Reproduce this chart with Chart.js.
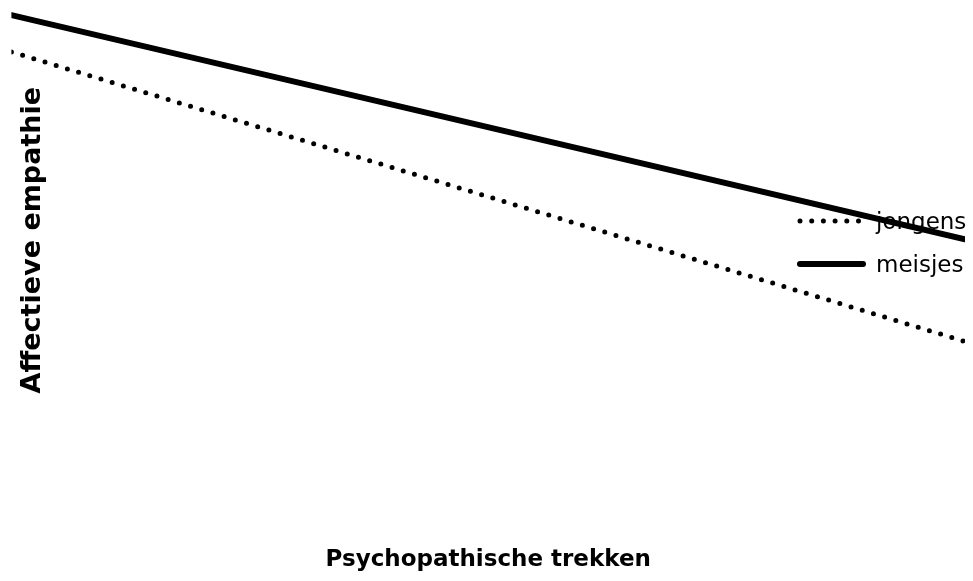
<!DOCTYPE html>
<html>
<head>
<meta charset="utf-8">
<script src="https://cdn.jsdelivr.net/npm/chart.js@4"></script>
<style>
    body { margin: 0; background: #fff; }
    .chart-box { width: 973px; height: 581px; }
</style>
</head>
<body>
<div class="chart-box"><canvas class="my-chart"></canvas></div>
<script>
const myChart = document.querySelector('.my-chart');

// psychopathic traits, low -> high
const traitLevels = [-1, 1];
const jongensValues = [9.09, 2.80];
const meisjesValues = [9.89, 5.02];
const seriesNames = ['jongens', 'meisjes'];

function toPoints(values) {
    return traitLevels.map((x, i) => ({ x: x, y: values[i] }));
}

// legend drawn on top of the plot, right side
const sideLegend = {
    id: 'sideLegend',
    afterDatasetsDraw(chart) {
        const ctx = chart.ctx;
        const startX = 800;
        const endX = 863;
        const textX = 876;
        let y = 221;
        chart.data.datasets.forEach(ds => {
            ctx.save();
            ctx.strokeStyle = ds.borderColor;
            ctx.lineWidth = ds.borderWidth;
            ctx.lineCap = 'round';
            ctx.setLineDash(ds.borderDash || []);
            ctx.beginPath();
            ctx.moveTo(startX, y);
            ctx.lineTo(endX, y);
            ctx.stroke();
            ctx.setLineDash([]);
            ctx.fillStyle = '#000';
            ctx.font = '23px "DejaVu Sans"';
            ctx.textBaseline = 'middle';
            ctx.fillText(ds.label, textX, y + 2);
            ctx.restore();
            y += 43;
        });
    }
};

new Chart(myChart, {
    type: 'line',
    data: {
        datasets: [{
            label: seriesNames[0],
            data: toPoints(jongensValues),
            borderColor: '#000',
            borderWidth: 5,
            borderDash: [0, 11.7],
            borderCapStyle: 'round',
            pointRadius: 0,
            fill: false
        }, {
            label: seriesNames[1],
            data: toPoints(meisjesValues),
            borderColor: '#000',
            borderWidth: 6,
            borderCapStyle: 'round',
            pointRadius: 0,
            fill: false
        }]
    },
    options: {
        responsive: true,
        maintainAspectRatio: false,
        animation: false,
        events: [],
        layout: {
            autoPadding: false,
            padding: { top: 10, left: 0, right: 8, bottom: 0 }
        },
        plugins: {
            legend: { display: false },
            tooltip: { enabled: false }
        },
        scales: {
            x: {
                type: 'linear',
                min: -1,
                max: 1,
                grid: { display: false, drawTicks: false },
                border: { display: false },
                ticks: { display: false },
                title: {
                    display: true,
                    text: 'Psychopathische trekken',
                    color: '#000',
                    font: { family: 'DejaVu Sans', size: 23, weight: 'bold' },
                    padding: { top: 76, bottom: 7 }
                }
            },
            y: {
                min: 0,
                max: 10,
                grid: { display: false, drawTicks: false },
                border: { display: false },
                ticks: { display: false },
                title: {
                    display: true,
                    text: 'Affectieve empathie',
                    color: '#000',
                    font: { family: 'DejaVu Sans', size: 27, weight: 'bold' },
                    padding: { top: 17, bottom: -38 }
                }
            }
        }
    },
    plugins: [sideLegend]
});
</script>
</body>
</html>
